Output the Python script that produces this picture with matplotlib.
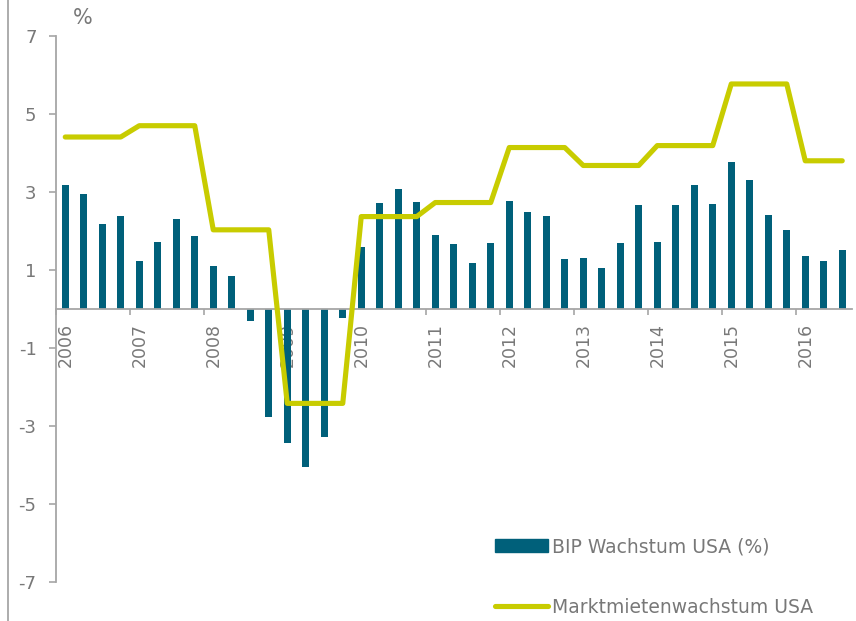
import matplotlib
matplotlib.use("Agg")
import matplotlib.pyplot as plt
from matplotlib.lines import Line2D
import numpy as np

plt.rcParams['font.family'] = ['DejaVu Sans']
plt.rcParams['axes.unicode_minus'] = False

years = [2006, 2007, 2008, 2009, 2010, 2011, 2012, 2013, 2014, 2015, 2016]
quarters = [f"{y}Q{q}" for y in years for q in range(1, 5)][:43]

# BIP Wachstum USA (%), quarterly
bip = [3.18, 2.95, 2.17, 2.38,
       1.24, 1.71, 2.31, 1.87,
       1.11, 0.84, -0.30, -2.77,
       -3.44, -4.05, -3.28, -0.22,
       1.60, 2.73, 3.08, 2.74,
       1.90, 1.66, 1.18, 1.68,
       2.76, 2.49, 2.39, 1.28,
       1.32, 1.04, 1.70, 2.67,
       1.71, 2.67, 3.19, 2.70,
       3.77, 3.30, 2.40, 2.03,
       1.36, 1.23, 1.52]

# Marktmietenwachstum USA, quarterly
mieten = [4.41, 4.41, 4.41, 4.41,
          4.70, 4.70, 4.70, 4.70,
          2.03, 2.03, 2.03, 2.03,
          -2.42, -2.42, -2.42, -2.42,
          2.37, 2.37, 2.37, 2.37,
          2.73, 2.73, 2.73, 2.73,
          4.14, 4.14, 4.14, 4.14,
          3.68, 3.68, 3.68, 3.68,
          4.19, 4.19, 4.19, 4.19,
          5.77, 5.77, 5.77, 5.77,
          3.80, 3.80, 3.80]

yticks = [7, 5, 3, 1, -1, -3, -5, -7]

bar_color = '#00607a'
line_color = '#c8cc00'
text_color = '#787878'
axis_color = '#a6a6a6'

fig = plt.figure(figsize=(8.56, 6.21), dpi=100)
ax = fig.add_axes([56 / 856, 1 - 582 / 621, (851.5 - 56) / 856, (582 - 36) / 621])

x = np.arange(len(quarters))
ax.bar(x, bip, width=0.38, color=bar_color, zorder=2)
ax.plot(x, mieten, color=line_color, lw=3.7, solid_joinstyle='round',
        solid_capstyle='round', zorder=3)

ax.set_xlim(-0.5, len(quarters) - 0.5)
ax.set_ylim(-7, 7)

for s in ['top', 'right']:
    ax.spines[s].set_visible(False)
ax.spines['bottom'].set_position(('data', 0))
ax.spines['bottom'].set_bounds(-0.5, len(quarters) - 0.5)
ax.spines['left'].set_bounds(-7, 7)
for s in ['bottom', 'left']:
    ax.spines[s].set_color(axis_color)
    ax.spines[s].set_linewidth(1.3)

ax.set_yticks(yticks)
ax.set_yticklabels([str(v) for v in yticks])
ax.tick_params(axis='y', colors=axis_color, labelcolor=text_color,
               labelsize=13, length=5, width=1.2, pad=9)

year_starts = [4 * i for i in range(len(years))]
ax.set_xticks([p - 0.5 for p in year_starts])
ax.set_xticklabels([])
ax.tick_params(axis='x', which='major', colors=axis_color, length=4, width=1.2)
ax.set_xticks(year_starts, minor=True)
ax.set_xticklabels([str(y) for y in years], minor=True, rotation=90,
                   va='top', ha='center')
ax.tick_params(axis='x', which='minor', length=0, pad=10,
               labelcolor=text_color, labelsize=12.5)

fig.text(83 / 856, 1 - 18 / 621, '%', color=text_color, fontsize=15,
         ha='center', va='center')

fig.add_artist(Line2D([8 / 856, 8 / 856], [0, 1], color=axis_color, lw=1.3))

handles = [plt.Rectangle((0, 0), 1, 1, color=bar_color),
           Line2D([], [], color=line_color, lw=3.7, solid_capstyle='round')]
fig.legend(handles, ['BIP Wachstum USA (%)', 'Marktmietenwachstum USA'],
           loc='center left', bbox_to_anchor=(495 / 856, 1 - 577 / 621),
           frameon=False, fontsize=13.5, labelcolor=text_color,
           handlelength=2.8, handletextpad=0.25, labelspacing=2.2,
           borderpad=0, borderaxespad=0)

fig.savefig('out.png', dpi=100)
